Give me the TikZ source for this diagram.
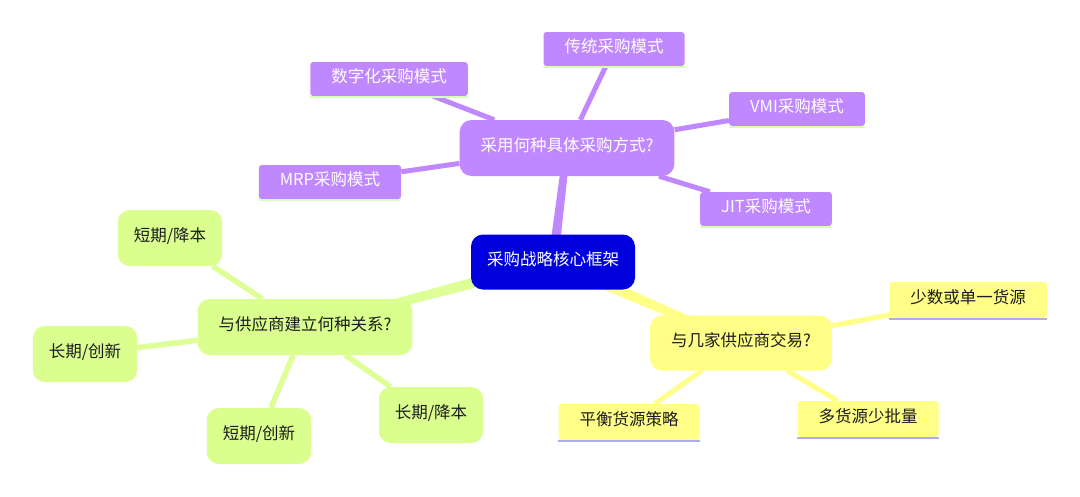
\documentclass[tikz,border=0pt]{standalone}
\usepackage{fontspec}
\setmainfont{Noto Sans CJK SC}
\usetikzlibrary{calc,backgrounds}
\definecolor{rootblue}{RGB}{0,0,221}
\definecolor{purp}{RGB}{192,136,255}
\definecolor{grn}{RGB}{218,255,143}
\definecolor{grnline}{RGB}{222,255,150}
\definecolor{yel}{RGB}{255,255,136}
\definecolor{lav}{RGB}{172,172,238}
\definecolor{pgline}{RGB}{214,255,184}
\definecolor{ink}{RGB}{28,28,28}
\begin{document}
\begin{tikzpicture}[x=1pt,y=-1pt,
  box/.style={font=\fontsize{16.5}{20}\selectfont, text height=0.88em, text depth=0.12em, inner ysep=0pt, align=center},
  rootnode/.style={box, fill=rootblue, text=white, rounded corners=12pt, inner xsep=16pt, minimum height=55pt},
  phub/.style={box, fill=purp, text=white, rounded corners=12pt, inner xsep=21pt, minimum height=56pt},
  pleaf/.style={box, fill=purp, text=white, rounded corners=3pt, inner xsep=21pt, minimum height=34pt},
  ghub/.style={box, fill=grn, text=ink, rounded corners=12pt, inner xsep=21pt, minimum height=56pt},
  gleaf/.style={box, fill=grn, text=ink, rounded corners=12pt, inner xsep=16pt, minimum height=56pt},
  yhub/.style={box, fill=yel, text=ink, rounded corners=12pt, inner xsep=21pt, minimum height=55pt},
  yleaf/.style={box, fill=yel, text=ink, rounded corners=3pt, inner xsep=21pt, minimum height=36pt},
  pedge/.style={draw=purp, line width=5pt},
  gedge/.style={draw=grnline, line width=5.5pt},
  yedge/.style={draw=yel, line width=5pt},
  pul/.style={draw=pgline, line width=2.5pt},
  yul/.style={draw=lav, line width=2.5pt},
]
\useasboundingbox (0,0) rectangle (1080,496);

\node[rootnode] (root) at (553,262) {采购战略核心框架};

\node[phub] (ph) at (567,148) {采用何种具体采购方式?};
\node[pleaf] (d1) at (389,79) {数字化采购模式};
\node[pleaf] (d2) at (614,49) {传统采购模式};
\node[pleaf] (d3) at (797,109) {VMI采购模式};
\node[pleaf] (d4) at (330,182) {MRP采购模式};
\node[pleaf] (d5) at (766,209) {JIT采购模式};

\node[ghub] (gh) at (305,327) {与供应商建立何种关系?};
\node[gleaf] (g1) at (170,238) {短期/降本};
\node[gleaf] (g2) at (85,354) {长期/创新};
\node[gleaf] (g3) at (259,436) {短期/创新};
\node[gleaf] (g4) at (431,415) {长期/降本};

\node[yhub] (yh) at (741,343) {与几家供应商交易?};
\node[yleaf] (y1) at (968,300) {少数或单一货源};
\node[yleaf] (y2) at (629,422) {平衡货源策略};
\node[yleaf] (y3) at (868,419) {多货源少批量};

\foreach \n in {d1,d2,d3,d4,d5}{
  \draw[pul] ([yshift=-1pt]\n.south west) -- ([yshift=-1pt]\n.south east);
}
\foreach \n in {y1,y2,y3}{
  \draw[yul] ([yshift=-1pt]\n.south west) -- ([yshift=-1pt]\n.south east);
}

\begin{scope}[on background layer]
  \fill[purp] ($(root)!5pt!90:(ph)$) -- ($(root)!5pt!-90:(ph)$) -- ($(ph)!3.5pt!90:(root)$) -- ($(ph)!3.5pt!-90:(root)$) -- cycle;
  \fill[grnline] ($(root)!6pt!90:(gh)$) -- ($(root)!6pt!-90:(gh)$) -- ($(gh)!3.5pt!90:(root)$) -- ($(gh)!3.5pt!-90:(root)$) -- cycle;
  \fill[yel] ($(root)!6pt!90:(yh)$) -- ($(root)!6pt!-90:(yh)$) -- ($(yh)!3.5pt!90:(root)$) -- ($(yh)!3.5pt!-90:(root)$) -- cycle;
  \foreach \n in {d1,d2,d3,d4,d5}{ \draw[pedge] (ph) -- (\n); }
  \foreach \n in {g1,g2,g3,g4}{ \draw[gedge] (gh) -- (\n); }
  \foreach \n in {y1,y2,y3}{ \draw[yedge] (yh) -- (\n); }
\end{scope}
\end{tikzpicture}
\end{document}
